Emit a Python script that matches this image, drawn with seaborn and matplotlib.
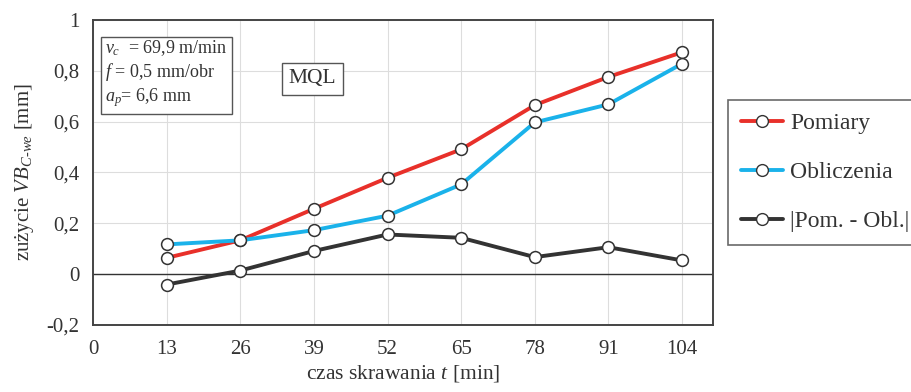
import pandas as pd
import matplotlib.pyplot as plt
import seaborn as sns
from matplotlib.lines import Line2D

# czas skrawania [min]
czas = [13, 26, 39, 52, 65, 78, 91, 104]
# zuzycie VB [mm]
pomiary = [0.064, 0.133, 0.257, 0.379, 0.491, 0.665, 0.776, 0.873]
obliczenia = [0.117, 0.133, 0.173, 0.230, 0.353, 0.597, 0.668, 0.828]
roznica = [-0.041, 0.014, 0.091, 0.156, 0.143, 0.067, 0.106, 0.054]
serie = ["Pomiary", "Obliczenia", "|Pom. - Obl.|"]
kolory = ["#e8302a", "#1ab2ea", "#333333"]

x_ticks = [0, 13, 26, 39, 52, 65, 78, 91, 104]
y_ticks = [-0.2, 0, 0.2, 0.4, 0.6, 0.8, 1]
y_labels = ["-0,2", "0", "0,2", "0,4", "0,6", "0,8", "1"]

df = pd.DataFrame({
    "t": czas * 3,
    "VB": pomiary + obliczenia + roznica,
    "seria": [s for s in serie for _ in czas],
})

sns.set_style("whitegrid")
plt.rcParams["font.family"] = ["Liberation Serif", "DejaVu Serif"]
plt.rcParams["mathtext.fontset"] = "custom"
plt.rcParams["mathtext.rm"] = "Liberation Serif"
plt.rcParams["mathtext.it"] = "Liberation Serif:italic"

fig = plt.figure(figsize=(9.12, 3.92), dpi=100)
ax = fig.add_axes([0.102, 0.171, 0.68, 0.778])

sns.lineplot(data=df, x="t", y="VB", hue="seria", hue_order=serie,
             palette=kolory, linewidth=2.8, marker="o", markersize=8.5,
             markerfacecolor="white", markeredgecolor="#333333",
             markeredgewidth=1.1, ax=ax, legend=False, zorder=3)

ax.axhline(0, color="#333333", linewidth=1.0, zorder=2)
ax.set_xlim(0, 109.5)
ax.set_ylim(-0.2, 1)
ax.set_xticks(x_ticks)
ax.set_yticks(y_ticks)
ax.set_yticklabels(y_labels)
ax.tick_params(labelsize=15, colors="#333333", length=0)
ax.tick_params(axis="x", pad=11)
ax.tick_params(axis="y", pad=10)
ax.grid(color="#dddddd", linewidth=0.8)
for s in ax.spines.values():
    s.set_color("#444444")
    s.set_linewidth(1.4)

ax.set_xlabel("czas skrawania $t$ [min]", fontsize=15.5, color="#333333", labelpad=3)
ax.set_ylabel("zużycie $VB_{C\\text{-}we}$ [mm]", fontsize=15, color="#333333", labelpad=7)

ax.text(0.02, 0.94, "$v_c$  = 69,9 m/min\n$f$ = 0,5 mm/obr\n$a_p$= 6,6 mm",
        transform=ax.transAxes, fontsize=13, color="#333333", va="top",
        linespacing=1.2,
        bbox=dict(boxstyle="square,pad=0.25", facecolor="white", edgecolor="#555555"))
ax.text(0.354, 0.807, "MQL", transform=ax.transAxes, fontsize=15.5,
        color="#333333", va="center", ha="center",
        bbox=dict(boxstyle="square,pad=0.3", facecolor="white", edgecolor="#555555"))

handles = [Line2D([], [], color=c, linewidth=2.8, marker="o", markersize=8.5,
                  markerfacecolor="white", markeredgecolor="#333333")
           for c in kolory]
leg = fig.legend(handles, serie, loc="upper left", bbox_to_anchor=(0.798, 0.745),
                 fontsize=17, frameon=True, fancybox=False, handlelength=1.8,
                 labelspacing=1.15, borderpad=0.55, handletextpad=0.3,
                 borderaxespad=0)
leg.get_frame().set_edgecolor("#444444")
leg.get_frame().set_linewidth(1.2)
for t in leg.get_texts():
    t.set_color("#333333")

fig.savefig("out.png", dpi=100)
